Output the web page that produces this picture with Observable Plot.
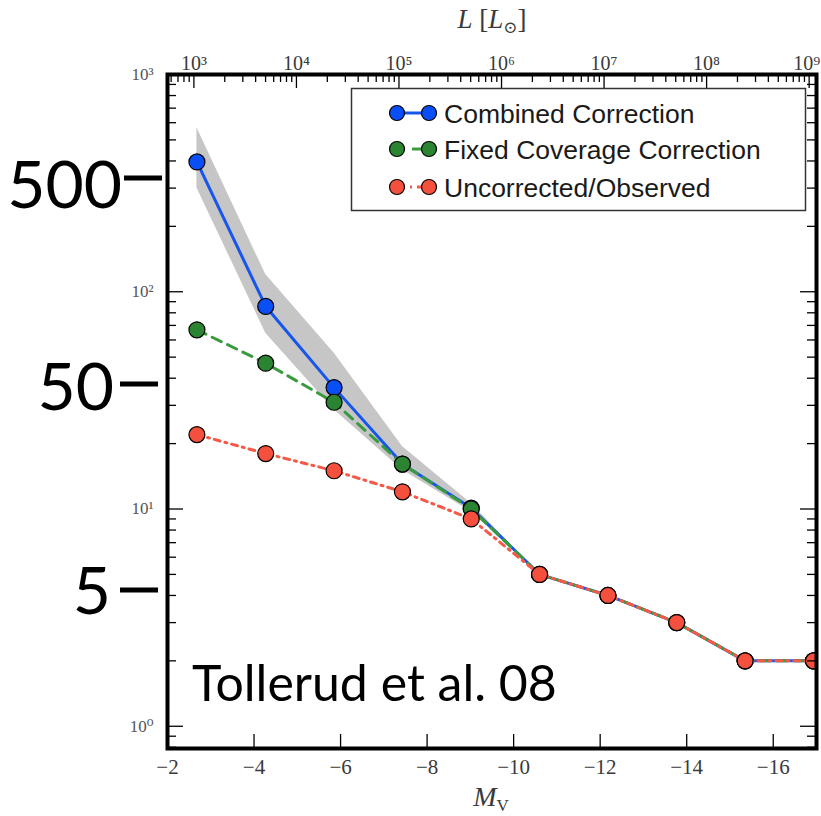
<!DOCTYPE html>
<html><head><meta charset="utf-8">
<script src="https://cdn.jsdelivr.net/npm/d3@7"></script>
<script src="https://cdn.jsdelivr.net/npm/@observablehq/plot@0.6"></script>
<style>
body{margin:0;background:#fff;}
#wrap{position:relative;width:821px;height:816px;overflow:hidden;background:#fff;}
</style></head><body><div id="wrap"></div>
<script>
// ---- data ----
const mv        = [-2.68, -4.27, -5.85, -7.43, -9.02, -10.60, -12.18, -13.77, -15.35, -16.93];
const combined  = [396, 85.6, 36.2, 16.1, 10.1, 5, 4, 3, 2, 2];
const fixedCov  = [66.8, 46.9, 31.0, 16.1, 10.0, 5, 4, 3, 2, 2];
const observed  = [22, 18, 15, 12, 9, 5, 4, 3, 2, 2];
const bandLow   = [300, 64.5, 28.6, 15.1, 9.7, 5, 4, 3, 2, 2];
const bandHigh  = [568, 120, 52.3, 19.4, 10.6, 5, 4, 3, 2, 2];
const seriesNames = ["Combined Correction", "Fixed Coverage Correction", "Uncorrected/Observed"];
const xTicks = [-2, -4, -6, -8, -10, -12, -14, -16];
const yTicks = [1, 10, 100, 1000];
const lTicks = [1e3, 1e4, 1e5, 1e6, 1e7, 1e8, 1e9];
const bigLabels = ["500", "50", "5"];
const credit = "Tollerud et al. 08";
// top axis relation L <-> M_V
const TOP_M0 = 4.5, TOP_K = 2.37;
const lToMv = L => TOP_M0 - TOP_K * Math.log10(L);

const W = 821, H = 816, mL = 167, mR = 5, mT = 74, mB = 68;
const fw = W - mL - mR, fh = H - mT - mB;
const xDomain = [-2, -17], yDomain = [0.79, 1000];

const blue = "#0a4ff5", blueLine = "#1656ec";
const green = "#2b8431", greenLine = "#3a9a3e";
const red = "#f4503d", redLine = "#f45a48";

const rows = mv.map((x, i) => ({x, c: combined[i], f: fixedCov[i], o: observed[i], lo: bandLow[i], hi: bandHigh[i]}));

// minor ticks
const yMinor = [];
for (let n = -1; n <= 2; n++) for (let k = 2; k <= 9; k++) { const v = k * 10 ** n; if (v >= yDomain[0] && v <= yDomain[1]) yMinor.push(v); }
const lMinor = [];
for (let n = 2; n <= 8; n++) for (let k = 2; k <= 9; k++) { const L = k * 10 ** n; const m = lToMv(L); if (m <= xDomain[0] && m >= xDomain[1]) lMinor.push(L); }

const sup = {"0":"⁰","1":"¹","2":"²","3":"³","4":"⁴","5":"⁵","6":"⁶","7":"⁷","8":"⁸","9":"⁹"};
const pow = v => "10" + String(Math.round(Math.log10(v))).split("").map(c => sup[c]).join("");

const serif = "'Liberation Serif', 'DejaVu Serif', serif";
const labCol = "#3a3a3a";

const plot = Plot.plot({
  width: W, height: H,
  marginLeft: mL, marginRight: mR, marginTop: mT, marginBottom: mB,
  x: {type: "linear", domain: xDomain, axis: null},
  y: {type: "log", domain: yDomain, axis: null},
  style: {background: "white", fontFamily: serif},
  marks: [
    Plot.areaY(rows, {x: "x", y1: "lo", y2: "hi", fill: "#c6c6c6", clip: true}),
    Plot.line(rows, {x: "x", y: "c", stroke: blueLine, strokeWidth: 3, clip: true}),
    Plot.dot(rows, {x: "x", y: "c", r: 8, fill: blue, stroke: "black", strokeWidth: 1.2, clip: true}),
    Plot.line(rows, {x: "x", y: "f", stroke: greenLine, strokeWidth: 3, strokeDasharray: "10,7", clip: true}),
    Plot.dot(rows, {x: "x", y: "f", r: 8, fill: green, stroke: "black", strokeWidth: 1.2, clip: true}),
    Plot.line(rows, {x: "x", y: "o", stroke: redLine, strokeWidth: 3, strokeDasharray: "6,5,2,5", clip: true}),
    Plot.dot(rows, {x: "x", y: "o", r: 8, fill: red, stroke: "black", strokeWidth: 1.2, clip: true}),
    // y ticks (inward), left and right
    Plot.ruleY(yTicks, {y: d => d, insetRight: fw - 16, stroke: "black", strokeWidth: 1.3}),
    Plot.ruleY(yMinor, {y: d => d, insetRight: fw - 9, stroke: "black", strokeWidth: 1.3}),
    Plot.ruleY(yTicks, {y: d => d, insetLeft: fw - 16, stroke: "black", strokeWidth: 1.3}),
    Plot.ruleY(yMinor, {y: d => d, insetLeft: fw - 9, stroke: "black", strokeWidth: 1.3}),
    // bottom x ticks
    Plot.ruleX(xTicks, {x: d => d, insetTop: fh - 14, stroke: "black", strokeWidth: 1.3}),
    // top L ticks
    Plot.ruleX(lTicks, {x: lToMv, insetBottom: fh - 14, stroke: "black", strokeWidth: 1.3}),
    Plot.ruleX(lMinor, {x: lToMv, insetBottom: fh - 8, stroke: "black", strokeWidth: 1.3}),
    // tick labels
    Plot.text(yTicks, {y: d => d, text: pow, frameAnchor: "left", textAnchor: "end", dx: -14, fontSize: 17, fill: "#555"}),
    Plot.text(xTicks, {x: d => d, text: d => "−" + (-d), frameAnchor: "bottom", lineAnchor: "top", dy: 11, fontSize: 21, fill: labCol}),
    Plot.text(lTicks.slice(0, -1), {x: lToMv, text: pow, frameAnchor: "top", lineAnchor: "bottom", dy: -5, fontSize: 20, fill: labCol}),
    Plot.text(lTicks.slice(-1), {x: lToMv, text: pow, frameAnchor: "top", lineAnchor: "bottom", textAnchor: "end", dx: 11, dy: -5, fontSize: 20, fill: labCol}),
    Plot.frame({stroke: "black", strokeWidth: 4})
  ]
});
document.getElementById("wrap").appendChild(plot);

const svg = d3.select(plot);
// axis titles
const t1 = svg.append("text").attr("x", 492).attr("y", 28).attr("text-anchor", "middle")
  .attr("font-family", serif).attr("font-size", 27).attr("fill", labCol);
t1.append("tspan").attr("font-style", "italic").text("L");
t1.append("tspan").text(" [");
t1.append("tspan").attr("font-style", "italic").text("L");
t1.append("tspan").attr("font-size", 17).attr("dy", 5).text("⊙");
t1.append("tspan").attr("dy", -5).text("]");
const t2 = svg.append("text").attr("x", 491).attr("y", 806).attr("text-anchor", "middle")
  .attr("font-family", serif).attr("font-size", 28).attr("fill", labCol);
t2.append("tspan").attr("font-style", "italic").text("M");
t2.append("tspan").attr("font-size", 17).attr("dy", 5).text("V");

// legend
const lg = svg.append("g").attr("transform", "translate(351,88)");
lg.append("rect").attr("x", 0.5).attr("y", 0.5).attr("width", 454).attr("height", 122)
  .attr("fill", "white").attr("stroke", "#333").attr("stroke-width", 1.5);
const legendStyles = [
  {fill: blue, line: blueLine, dash: null},
  {fill: green, line: greenLine, dash: "10,7"},
  {fill: red, line: redLine, dash: "6,5,2,5"}
];
const rowsY = [25, 61, 99];
seriesNames.forEach((name, i) => {
  const y = rowsY[i], s = legendStyles[i];
  lg.append("line").attr("x1", 46).attr("x2", 78).attr("y1", y).attr("y2", y)
    .attr("stroke", s.line).attr("stroke-width", 3).attr("stroke-dasharray", s.dash)
    .attr("stroke-dashoffset", i === 1 ? 2 : (i === 2 ? -2 : 0));
  [46, 78].forEach(cx => lg.append("circle").attr("cx", cx).attr("cy", y).attr("r", 7.5)
    .attr("fill", s.fill).attr("stroke", "black").attr("stroke-width", 1.2));
  lg.append("text").attr("x", 93).attr("y", y).attr("dy", "0.36em").attr("text-anchor", "start")
    .attr("font-family", "'Liberation Sans', Arial, sans-serif").attr("font-size", 26.5).attr("fill", "#1a1a1a").text(name);
});

// slide annotations
const ann = "Lato, 'Open Sans', sans-serif";
const bigPos = [{x: 122, y: 208, tx1: 124, tx2: 162, ty: 178}, {x: 114, y: 410, tx1: 120, tx2: 158, ty: 384}, {x: 111, y: 614, tx1: 120, tx2: 158, ty: 590}];
bigLabels.forEach((s, i) => {
  const p = bigPos[i];
  svg.append("text").attr("x", p.x).attr("y", p.y).attr("text-anchor", "end")
    .attr("font-family", ann).attr("font-size", 66).attr("fill", "black").text(s);
  svg.append("line").attr("x1", p.tx1).attr("x2", p.tx2).attr("y1", p.ty).attr("y2", p.ty)
    .attr("stroke", "black").attr("stroke-width", 5);
});
svg.append("text").attr("x", 192).attr("y", 701).attr("text-anchor", "start").attr("font-family", ann).attr("font-size", 50)
  .attr("fill", "black").text(credit);
</script></body></html>
